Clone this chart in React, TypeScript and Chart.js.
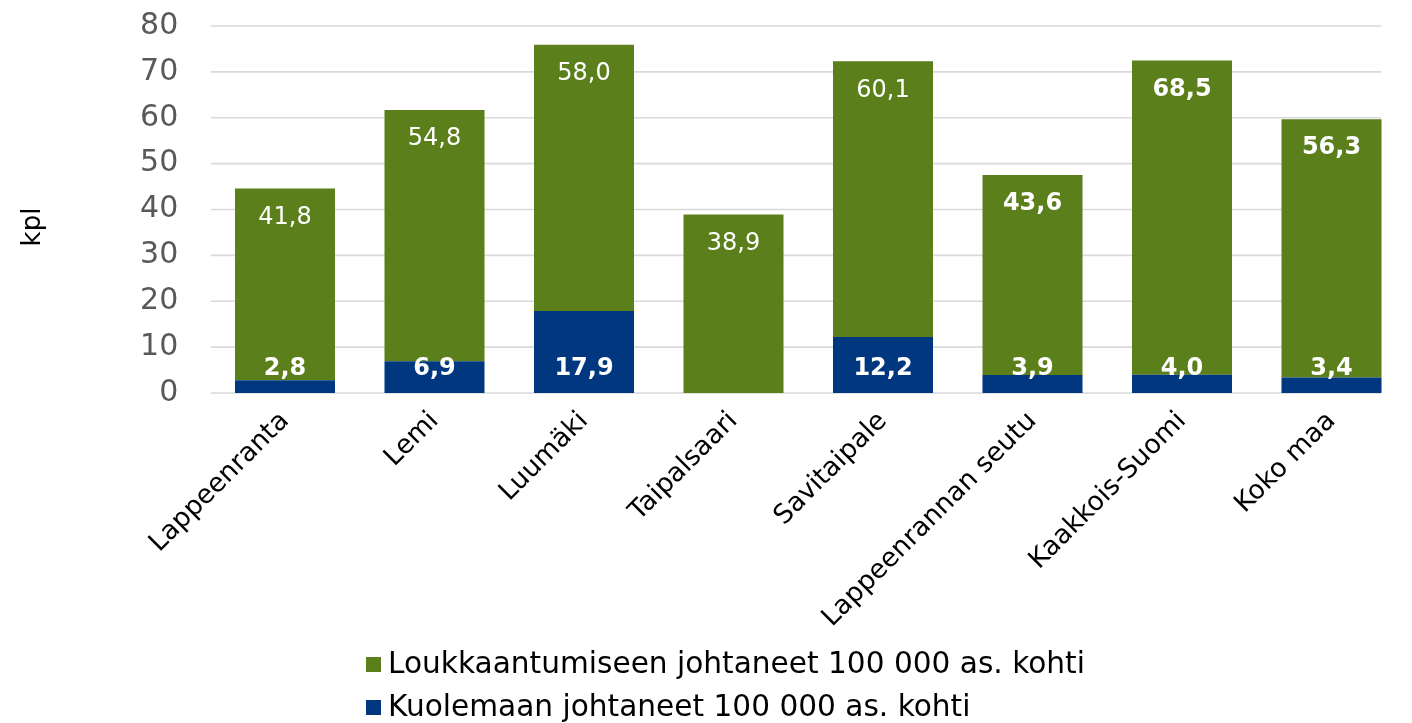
import React, { useEffect, useRef } from "react";
import { Chart, registerables } from "chart.js";

Chart.register(...registerables);

const categories = [
  "Lappeenranta",
  "Lemi",
  "Luumäki",
  "Taipalsaari",
  "Savitaipale",
  "Lappeenrannan seutu",
  "Kaakkois-Suomi",
  "Koko maa",
];
const deathValues = [2.8, 6.9, 17.9, 0, 12.2, 3.9, 4.0, 3.4];
const injuryValues = [41.8, 54.8, 58.0, 38.9, 60.1, 43.6, 68.5, 56.3];
const injuryBold = [false, false, false, false, false, true, true, true];
const deathBold = [true, true, true, true, true, true, true, true];
const yTicks = [0, 10, 20, 30, 40, 50, 60, 70, 80];
const injuryLabel = "Loukkaantumiseen johtaneet 100 000 as. kohti";
const deathLabel = "Kuolemaan johtaneet 100 000 as. kohti";
const yTitle = "kpl";

const GREEN = "#5b7f1a";
const BLUE = "#00377f";
const GRID = "#d9d9d9";
const FONT = "'DejaVu Sans', Verdana, sans-serif";

const fmt = (v: number) => v.toFixed(1).replace(".", ",");

const overlayPlugin = {
  id: "overlay",
  beforeDatasetsDraw(chart: any) {
    const ctx = chart.ctx;
    const ys = chart.scales.y;
    ctx.save();
    ctx.strokeStyle = GRID;
    ctx.lineWidth = 1.6;
    yTicks.forEach((v) => {
      const y = ys.getPixelForValue(v);
      ctx.beginPath();
      ctx.moveTo(211, y);
      ctx.lineTo(1381, y);
      ctx.stroke();
    });
    ctx.restore();
  },
  afterDatasetsDraw(chart: any) {
    const ctx = chart.ctx;
    ctx.save();
    ctx.fillStyle = "#ffffff";
    ctx.textAlign = "center";
    ctx.textBaseline = "middle";
    const m0 = chart.getDatasetMeta(0);
    m0.data.forEach((bar: any, i: number) => {
      const v = deathValues[i];
      if (!v) return;
      ctx.font = `${deathBold[i] ? "bold " : ""}24px ${FONT}`;
      ctx.fillText(fmt(v), bar.x, bar.base - 24);
    });
    const m1 = chart.getDatasetMeta(1);
    m1.data.forEach((bar: any, i: number) => {
      const v = injuryValues[i];
      ctx.font = `${injuryBold[i] ? "bold " : ""}24px ${FONT}`;
      ctx.fillText(fmt(v), bar.x, bar.y + 29);
    });
    ctx.restore();
  },
  afterDraw(chart: any) {
    const ctx = chart.ctx;
    const xs = chart.scales.x;
    // x category labels
    ctx.save();
    ctx.fillStyle = "#000000";
    ctx.font = `26.5px ${FONT}`;
    ctx.textAlign = "right";
    ctx.textBaseline = "middle";
    categories.forEach((c, i) => {
      const x = xs.getPixelForTick(i);
      ctx.save();
      ctx.translate(x, chart.chartArea.bottom + 24);
      ctx.rotate(-Math.PI / 4);
      ctx.fillText(c, 0, 0);
      ctx.restore();
    });
    ctx.restore();
    // y title
    ctx.save();
    ctx.fillStyle = "#000000";
    ctx.font = `26px ${FONT}`;
    ctx.textAlign = "center";
    ctx.textBaseline = "middle";
    ctx.translate(33, 227);
    ctx.rotate(-Math.PI / 2);
    ctx.fillText(yTitle, 0, 0);
    ctx.restore();
    // legend
    ctx.save();
    ctx.font = `29.6px ${FONT}`;
    ctx.textAlign = "left";
    ctx.textBaseline = "middle";
    const rows = [
      { c: GREEN, t: injuryLabel, y: 665 },
      { c: BLUE, t: deathLabel, y: 708 },
    ];
    rows.forEach((r) => {
      ctx.fillStyle = r.c;
      ctx.fillRect(366, r.y - 8, 15, 15);
      ctx.fillStyle = "#000000";
      ctx.fillText(r.t, 388, r.y);
    });
    ctx.restore();
  },
};

export default function App() {
  const ref = useRef<HTMLCanvasElement>(null);
  useEffect(() => {
    document.body.style.margin = "0";
    const chart = new Chart(ref.current!, {
      type: "bar",
      data: {
        labels: categories,
        datasets: [
          {
            label: deathLabel,
            data: deathValues,
            backgroundColor: BLUE,
            categoryPercentage: 1,
            barPercentage: 0.669,
          },
          {
            label: injuryLabel,
            data: injuryValues,
            backgroundColor: GREEN,
            categoryPercentage: 1,
            barPercentage: 0.669,
          },
        ],
      },
      options: {
        animation: false,
        responsive: true,
        maintainAspectRatio: false,
        layout: { padding: { left: 0, right: 5.75, top: 26, bottom: 0 } },
        plugins: {
          legend: { display: false },
          tooltip: { enabled: false },
        },
        scales: {
          x: {
            stacked: true,
            grid: { display: false },
            border: { display: false },
            ticks: { display: false },
            afterFit(scale: any) {
              scale.height = 330;
              scale.paddingLeft = 0;
              scale.paddingRight = 0;
            },
          },
          y: {
            stacked: true,
            min: 0,
            max: 80,
            ticks: {
              stepSize: 10,
              color: "#595959",
              font: { family: FONT, size: 30 },
              padding: 32,
            },
            grid: { display: false, drawTicks: false },
            border: { display: false },
            afterFit(scale: any) {
              scale.width = 210.25;
              scale.paddingTop = 0;
              scale.paddingBottom = 0;
            },
          },
        },
      },
      plugins: [overlayPlugin],
    });
    return () => chart.destroy();
  }, []);
  return (
    <div style={{ position: "fixed", left: 0, top: 0, width: 1412, height: 723 }}>
      <canvas ref={ref} />
    </div>
  );
}
